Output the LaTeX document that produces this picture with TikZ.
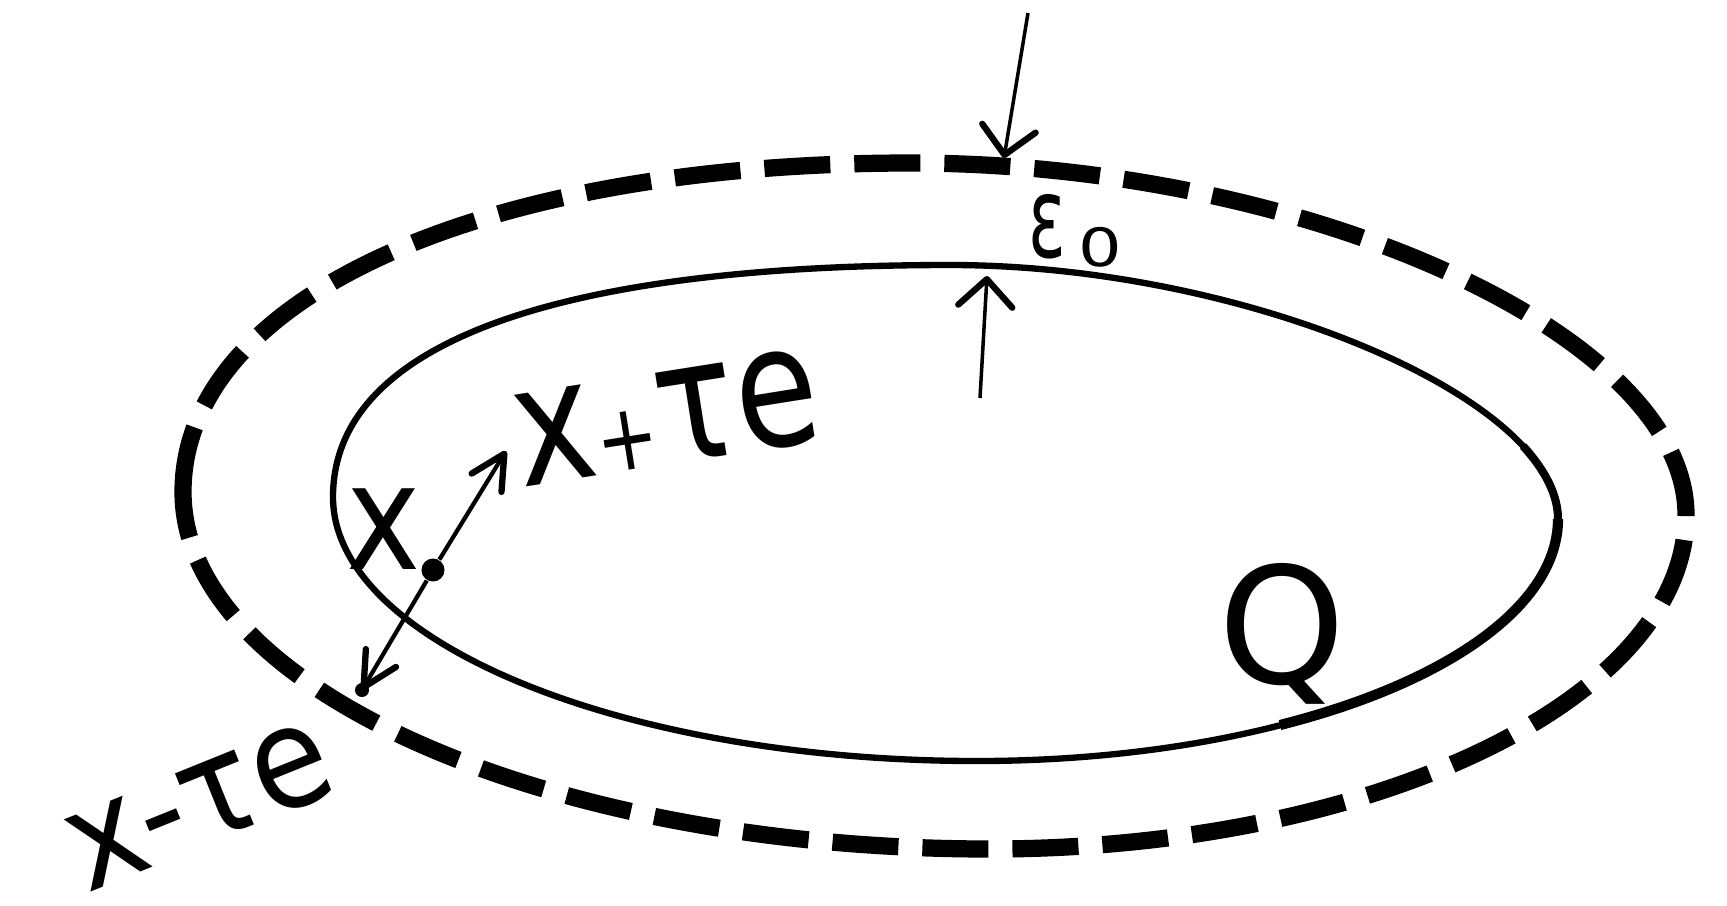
\documentclass[tikz,border=0pt]{standalone}
\usepackage{graphicx}
\usepackage{fontspec}
\setmainfont{DejaVu Sans}
\usetikzlibrary{arrows.meta}
\begin{document}
\begin{tikzpicture}[x=0.01cm,y=-0.01cm,
  dashring/.style={line width=4.9pt, dash pattern=on 0.66cm off 0.24cm},
  ring/.style={line width=1.8pt},
  ringthick/.style={line width=2.9pt},
  ringmid/.style={line width=2.3pt},
  garrow/.style={line width=1pt, -{Straight Barb[length=2.7mm,width=5.4mm,line width=1.8pt,round]}},
  xarrow/.style={line width=1.2pt, -{Straight Barb[length=3.4mm,width=3.5mm,line width=1.8pt,round]}},
  bigdot/.style={circle, fill, inner sep=0pt, minimum size=0.23cm},
  smalldot/.style={circle, fill, inner sep=0pt, minimum size=0.14cm},
  lab/.style={inner sep=0pt}
]
\useasboundingbox (0,0) rectangle (1727,905);

% outer dashed curve
\coordinate (oL) at (183,492);
\coordinate (oT) at (910,163);
\coordinate (oR) at (1686,515);
\coordinate (oB) at (990,849);
\draw[dashring] (oL) .. controls (183,298) and (481,163) .. (oT)
  .. controls (1306,163) and (1686,335) .. (oR)
  .. controls (1686,699) and (1373,849) .. (oB)
  .. controls (546,849) and (183,688) .. cycle;

% inner solid curve
\coordinate (iL) at (333,497);
\coordinate (iT) at (950,265);
\coordinate (iR) at (1558,519);
\coordinate (iB) at (977,761);
\draw[ring] (iL) .. controls (333,346) and (549,265) .. (iT)
  .. controls (1242,265) and (1558,397) .. (iR)
  .. controls (1558,652) and (1297,761) .. (iB)
  .. controls (623,761) and (333,642) .. cycle;
\coordinate (qs) at (1280,725);
\coordinate (qe) at (1523,446);
\draw[ringthick] (qs) .. controls (1446,683) and (1558,606) .. (iR);
\draw[ringmid] (iR) .. controls (1558,495) and (1545,470) .. (qe);

% epsilon_0 gap arrows
\coordinate (etop) at (1028,13);
\coordinate (etip) at (1004,158);
\coordinate (ebot) at (980,398);
\coordinate (etip2) at (987,276);
\draw[garrow] (etop) -- (etip);
\draw[garrow] (ebot) -- (etip2);
\node[lab, anchor=base west] (eps) at (1028,257)
  {\fontsize{32}{32}\selectfont\scalebox{0.62}[1]{ε}\hspace{0.12cm}\raisebox{-2.8pt}{\fontsize{15}{15}\selectfont\scalebox{1.3}[1]{0}}};

% point x and the segment x - tau e, x + tau e
\node[bigdot] (x0) at (433,570) {};
\node[smalldot] (xm) at (362,690) {};
\coordinate (xp) at (506,451);
\draw[xarrow] (x0) -- (xp);
\draw[xarrow] (x0) -- (xm.center);

\node[lab] (xl) at (384,529) {\fontsize{42}{42}\selectfont\scalebox{0.85}[1]{x}};
\node[lab, rotate=9] (xpl) at (667,418)
  {\fontsize{48}{48}\selectfont\scalebox{0.8}[1]{x\scalebox{0.55}{+}τe}};
\node[lab, rotate=22] (xml) at (200,806)
  {\fontsize{40}{40}\selectfont\scalebox{0.9}[1]{x-τe}};

\node[lab, anchor=base] (q) at (1282,683) {\fontsize{46}{46}\selectfont Q};
\end{tikzpicture}
\end{document}
